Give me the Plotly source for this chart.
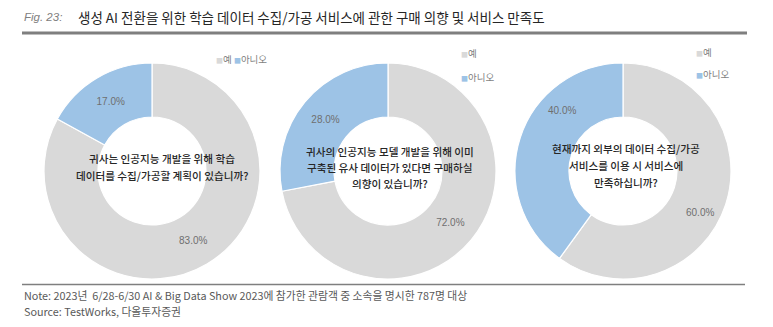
import plotly.graph_objects as go

W, H = 773, 327

categories = ["예", "아니오"]
colors = ["#D9D9D9", "#9DC3E6"]
q1_values = [83.0, 17.0]
q2_values = [72.0, 28.0]
q3_values = [60.0, 40.0]
questions = [
    ["귀사는 인공지능 개발을 위해 학습", "데이터를 수집/가공할 계획이 있습니까?"],
    ["귀사의 인공지능 모델 개발을 위해 이미", "구축된 유사 데이터가 있다면 구매하실", "의향이 있습니까?"],
    ["현재까지 외부의 데이터 수집/가공", "서비스를 이용 시 서비스에", "만족하십니까?"],
]
title_prefix = "Fig. 23:"
title_text = "생성 AI 전환을 위한 학습 데이터 수집/가공 서비스에 관한 구매 의향 및 서비스 만족도"
note_text = "Note: 2023년  6/28-6/30 AI & Big Data Show 2023에 참가한 관람객 중 소속을 명시한 787명 대상"
source_text = "Source: TestWorks, 다올투자증권"

FONT = "Noto Sans CJK KR"
LABEL_FONT = dict(family="Liberation Sans", size=10, color="#6f6f6f")

# pixel layout of pies: (center x, center y, radius)
pies = [(152, 171, 108), (388, 171, 108), (623, 171, 108)]
series = [q1_values, q2_values, q3_values]
# pies whose labels are placed manually (best-fit style like the source)
manual_label_pos = {2: [(700, 212), (562, 110)]}

fig = go.Figure()
for i, ((cx, cy, r), vals) in enumerate(zip(pies, series)):
    manual = i in manual_label_pos
    fig.add_trace(go.Pie(
        labels=categories, values=vals, sort=False, direction="clockwise",
        rotation=0, hole=0.5,
        marker=dict(colors=colors, line=dict(color="white", width=1.2)),
        texttemplate="%{value:.1f}%", textposition="none" if manual else "inside",
        insidetextorientation="horizontal",
        textfont=LABEL_FONT,
        domain=dict(x=[(cx - r) / W, (cx + r) / W], y=[1 - (cy + r) / H, 1 - (cy - r) / H]),
        showlegend=False, hoverinfo="label+percent",
    ))

ann = []
def px(x, y):
    return x / W, 1 - y / H

for i, positions in manual_label_pos.items():
    for (lx, ly), v in zip(positions, series[i]):
        x, y = px(lx, ly)
        ann.append(dict(x=x, y=y, text=f"{v:.1f}%", xanchor="center", yanchor="middle", font=LABEL_FONT))

# title
x, y = px(22, 17)
ann.append(dict(x=x, y=y, text=f"<i>{title_prefix}</i>", xanchor="left", yanchor="middle",
                font=dict(family="Liberation Sans", size=11.5, color="#808080")))
x, y = px(76, 17)
ann.append(dict(x=x, y=y, text=title_text, xanchor="left", yanchor="middle",
                font=dict(family=FONT, size=13.5, color="#262626")))
# note/source
x, y = px(22, 295)
ann.append(dict(x=x, y=y, text=note_text, xanchor="left", yanchor="middle",
                font=dict(family=FONT, size=10.8, color="#595959")))
x, y = px(22, 311)
ann.append(dict(x=x, y=y, text=source_text, xanchor="left", yanchor="middle",
                font=dict(family=FONT, size=10.8, color="#595959")))

# center questions
centers_text = [(162, [158, 175]), (390, [152, 167, 183]), (626, [148, 165, 182])]
for (tx, ys), lines in zip(centers_text, questions):
    for ly, line in zip(ys, lines):
        x, y = px(tx, ly)
        ann.append(dict(x=x, y=y, text=line, xanchor="center", yanchor="middle",
                        font=dict(family=FONT, size=10.6, color="#262626", weight=500)))

def swatch(i):
    return f'<span style="color:{colors[i]};font-size:7px">■</span>{categories[i]}'

legend_font = dict(family=FONT, size=9.5, color="#7f7f7f")
# legend 1 (horizontal)
x, y = px(214, 59)
ann.append(dict(x=x, y=y, text=swatch(0) + " " + swatch(1), xanchor="left", yanchor="middle", font=legend_font))
# legend 2 & 3 (vertical)
for lx, y1, y2 in [(459, 53, 77), (694, 52, 74)]:
    x, y = px(lx, y1)
    ann.append(dict(x=x, y=y, text=swatch(0), xanchor="left", yanchor="middle", font=legend_font))
    x, y = px(lx, y2)
    ann.append(dict(x=x, y=y, text=swatch(1), xanchor="left", yanchor="middle", font=legend_font))

for a in ann:
    a.update(xref="paper", yref="paper", showarrow=False)

shapes = [
    dict(type="line", xref="paper", yref="paper", x0=22 / W, x1=747 / W, y0=1 - 33 / H, y1=1 - 33 / H,
         line=dict(color="#7f7f7f", width=3)),
    dict(type="line", xref="paper", yref="paper", x0=22 / W, x1=745 / W, y0=1 - 284.5 / H, y1=1 - 284.5 / H,
         line=dict(color="#7f7f7f", width=1.5)),
]

fig.update_layout(
    width=W, height=H, margin=dict(l=0, r=0, t=0, b=0),
    paper_bgcolor="white", plot_bgcolor="white",
    annotations=ann, shapes=shapes, showlegend=False,
)
fig.write_html("out.html")
